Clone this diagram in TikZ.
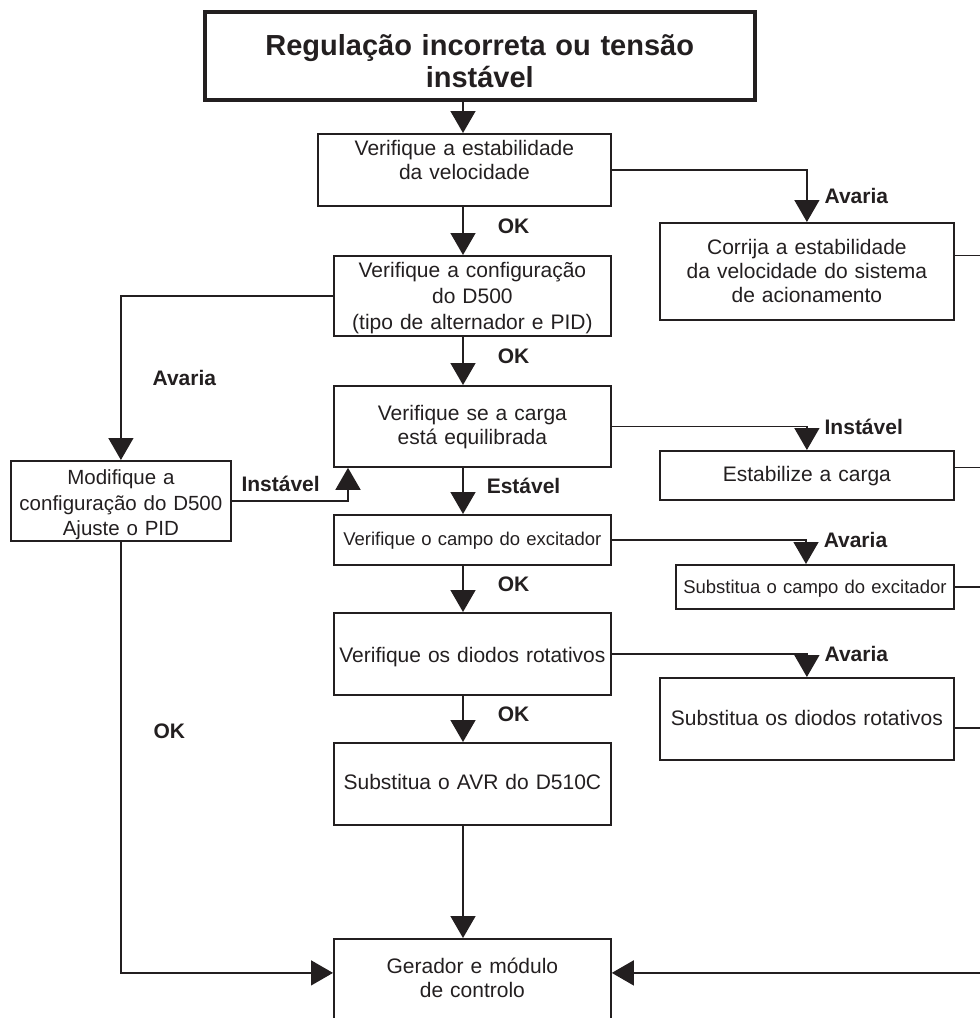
\documentclass[tikz,border=0pt]{standalone}
\usepackage{fontspec}
\setmainfont{Liberation Sans}
\usepackage{xcolor}
\definecolor{ink}{RGB}{35,31,32}
\usepackage{tikz}
\usetikzlibrary{arrows.meta,positioning}
\tikzset{
  box/.style={draw=ink, line width=1.8pt, anchor=north west, align=center, inner sep=0pt, text=ink, font=\fontsize{21}{24}\selectfont},
  smallbox/.style={box, font=\fontsize{18.5}{22}\selectfont},
  head/.style={box, line width=3.5pt, font=\fontsize{29}{32}\selectfont\bfseries},
  arr/.style={-{Triangle[length=22pt,width=25pt]}, line width=1.5pt, draw=ink},
  wire/.style={line width=1.5pt, draw=ink},
  lbl/.style={font=\fontsize{21}{24}\selectfont\bfseries, text=ink, inner sep=0pt}
}

\begin{document}
\begin{tikzpicture}[x=1pt, y=-1pt]
  \useasboundingbox (0,0) rectangle (980,1018);
  \coordinate (spine) at (463,0);
  \coordinate (rspine) at (806,0);
  \coordinate (rim) at (985,0);

  % main column
  \node[head, text width=550pt, text height=44pt, text depth=44pt] (start) at (203,10) {Regulação incorreta ou tensão\\instável};
  \node[box, text width=293pt, text height=22pt, text depth=50pt] (speed) at (317,133) {Verifique a estabilidade\\da velocidade};
  \node[box, text width=277pt, text height=22pt, text depth=58pt, font=\fontsize{21}{26}\selectfont] (config) at (333,255) {Verifique a configuração\\do D500\\(tipo de alternador e PID)};
  \node[box, text width=277pt, text height=35pt, text depth=46pt] (load) at (333,385) {Verifique se a carga\\está equilibrada};
  \node[smallbox, text width=277pt, text height=31pt, text depth=19pt] (field) at (333,514) {Verifique o campo do excitador};
  \node[box, text width=277pt, text height=50pt, text depth=32pt] (diodes) at (333,612) {Verifique os diodos rotativos};
  \node[box, text width=277pt, text height=47pt, text depth=35pt] (avr) at (333,742) {Substitua o AVR do D510C};
  \node[box, text width=277pt, text height=35pt, text depth=67pt] (gen) at (333,938) {Gerador e módulo\\de controlo};

  % fault column
  \node[box, text width=294pt, text height=32pt, text depth=65pt] (fixspeed) at (659,222) {Corrija a estabilidade\\da velocidade do sistema\\de acionamento};
  \node[box, text width=294pt, text height=31pt, text depth=18pt] (fixload) at (659,450) {Estabilize a carga};
  \node[smallbox, text width=278pt, text height=29pt, text depth=15pt] (fixfield) at (675,564) {Substitua o campo do excitador};
  \node[box, text width=294pt, text height=48pt, text depth=34pt] (fixdiodes) at (659,677) {Substitua os diodos rotativos};

  % settings
  \node[box, text width=220pt, text height=24pt, text depth=56pt, font=\fontsize{20.5}{25.5}\selectfont] (modify) at (10,460) {Modifique a\\configuração do D500\\Ajuste o PID};

  \draw[arr] (spine |- start.south) -- (spine |- speed.north);
  \draw[arr] (spine |- speed.south) -- node[lbl, pos=0.4, right=34pt] {OK} (spine |- config.north);
  \draw[arr] (spine |- config.south) -- node[lbl, pos=0.4, right=34pt] {OK} (spine |- load.north);
  \draw[arr] (spine |- load.south) -- node[lbl, pos=0.4, right=23pt] {Estável} (spine |- field.north);
  \draw[arr] (spine |- field.south) -- node[lbl, pos=0.4, right=34pt] {OK} (spine |- diodes.north);
  \draw[arr] (spine |- diodes.south) -- node[lbl, pos=0.4, right=34pt] {OK} (spine |- avr.north);
  \draw[arr] (spine |- avr.south) -- (spine |- gen.north);

  \draw[arr] (speed.east) -| node[lbl, pos=0.75, right=17pt] {Avaria} (fixspeed.north);
  \draw[arr] (load.east) -| node[lbl, pos=0.5, right=17pt] {Instável} (fixload.north);
  \draw[arr] (field.east) -| node[lbl, pos=0.5, right=17pt] {Avaria} (rspine |- fixfield.north);
  \draw[arr] (diodes.east) -| node[lbl, pos=0.5, right=17pt] {Avaria} (fixdiodes.north);

  \draw[arr] (config.west) -| node[lbl, pos=0.75, right=31pt] {Avaria} (modify.north);
  \draw[arr] (modify.east) -| node[lbl, pos=0.21, above=8pt] {Instável} ([xshift=15pt]load.south west);
  \draw[arr] (modify.south) |- node[lbl, pos=0.22, right=32pt] {OK} ([yshift=17pt]gen.west);

  % returns to the generator
  \draw[wire] ([yshift=16pt]fixspeed.east) -- ([yshift=16pt]fixspeed.east -| rim);
  \draw[wire] ([yshift=8pt]fixload.east) -- ([yshift=8pt]fixload.east -| rim);
  \draw[wire] (fixfield.east) -- (fixfield.east -| rim);
  \draw[wire] ([yshift=-9pt]fixdiodes.east) -- ([yshift=-9pt]fixdiodes.east -| rim);
  \draw[arr] ([yshift=17pt]gen.east -| rim) -- ([yshift=17pt]gen.east);
\end{tikzpicture}
\end{document}
